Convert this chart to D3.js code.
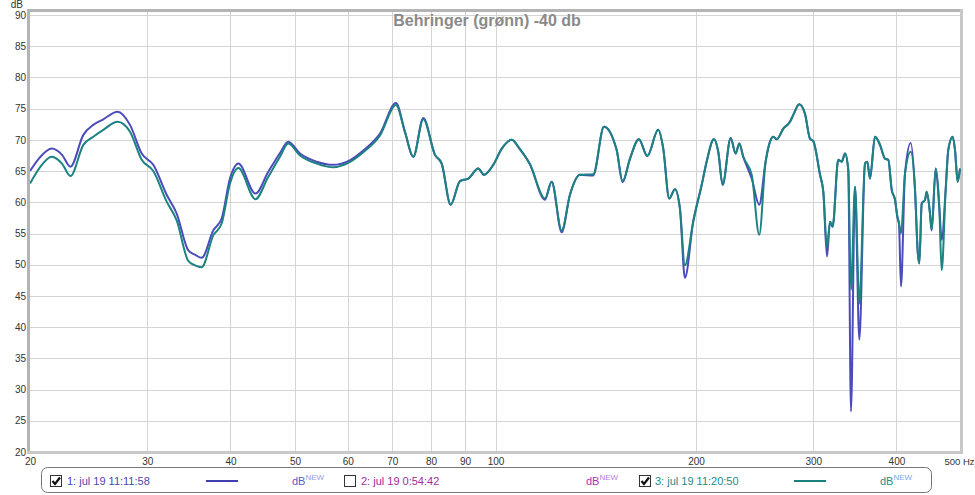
<!DOCTYPE html>
<html><head><meta charset="utf-8">
<script src="https://cdn.jsdelivr.net/npm/d3@7/dist/d3.min.js"></script>
<style>body{margin:0;background:#fff}svg{display:block}text{font-family:"Liberation Sans",Arial,sans-serif}</style>
</head><body>
<script>
const freqs = [20.0,20.7,21.56,22.34,23.0,24.05,24.89,25.77,27.07,28.26,29.43,30.63,32.08,33.21,34.57,35.38,36.21,37.69,38.80,39.93,41.10,43.61,45.54,47.47,48.85,50.87,53.89,57.07,60.11,63.31,67.08,70.88,73.13,75.26,77.91,81.12,83.02,85.65,88.45,91.02,94.22,96.10,99.24,102.2,105.75,108.8,112.65,118.65,121.43,125.7,129.36,133.9,140.2,145.5,152.0,155.2,159.2,164.2,169.0,175.5,178.6,182.3,186.0,189.2,192.5,198.1,204.0,207.5,212.8,216.0,219.3,225.5,229.4,232.3,235.5,242.5,248.9,254.3,258.3,261.3,264.4,270.5,276.8,280.0,285.8,291.5,296.6,300.0,307.1,310.6,314.6,317.9,320.8,327.1,331.0,334.8,338.6,341.8,346.6,351.8,358.8,361.6,365.0,371.4,377.9,384.4,388.9,393.5,398.0,401.2,403.5,406.3,412.0,420.2,426.5,430.5,432.9,436.5,441.5,444.1,449.2,451.8,458.1,463.8,467.7,474.2,478.5,485.8,489.7,494.3,498.3];
const series1Db = [65.0,67.2,68.6,67.6,65.7,70.8,72.4,73.3,74.5,72.4,67.8,66.0,61.2,58.2,52.3,51.6,51.1,55.5,57.4,63.8,66.2,61.4,64.8,67.9,69.7,67.8,66.5,66.0,66.6,68.3,71.0,75.9,71.3,67.3,73.5,67.6,66.2,59.6,63.4,63.8,65.4,64.4,66.0,68.6,70.0,68.5,66.1,60.4,63.3,55.2,61.2,64.4,64.3,72.1,68.4,63.2,67.0,70.1,67.4,71.6,68.6,60.6,62.1,59.0,47.9,56.9,62.8,66.5,70.1,68.1,62.8,70.3,67.8,69.4,67.3,63.8,59.6,66.3,69.7,70.5,70.1,71.8,72.9,74.0,75.7,74.2,70.2,69.8,64.4,61.7,51.3,56.9,56.1,66.8,66.5,67.8,65.2,26.5,62.5,38.0,66.2,66.5,63.8,70.5,69.2,67.0,66.8,62.0,60.4,57.7,56.6,46.5,64.6,69.5,62.0,52.1,50.2,59.8,60.4,61.7,58.2,55.5,65.4,59.3,54.0,62.0,68.4,70.5,68.4,63.3,65.4];
const series3Db = [63.0,65.6,67.3,66.2,64.2,69.2,70.5,71.6,72.9,71.3,66.8,65.0,60.1,57.1,50.6,49.9,49.6,54.7,56.6,63.0,65.5,60.5,64.0,67.3,69.4,67.5,66.2,65.6,66.3,68.0,70.7,75.6,71.2,67.3,73.3,67.6,66.2,59.6,63.4,63.8,65.4,64.4,66.0,68.6,70.0,68.5,66.1,60.6,63.3,55.5,61.2,64.4,64.5,72.1,68.4,63.4,67.0,70.1,67.4,71.6,68.6,60.6,62.1,59.0,49.9,56.9,62.8,66.5,70.1,68.1,62.8,70.3,67.8,69.4,67.3,64.4,54.8,66.3,69.7,70.5,70.1,71.8,72.9,74.0,75.7,74.2,70.2,69.8,64.4,61.7,52.8,56.9,56.1,66.8,66.5,67.8,65.2,46.0,62.5,43.8,66.2,66.5,63.8,70.5,69.2,67.0,66.8,62.0,60.4,57.7,56.6,55.0,64.6,68.1,62.0,52.1,50.2,59.8,60.4,61.7,58.2,55.5,65.4,59.3,49.1,62.0,68.4,70.5,68.4,63.3,65.4];
const yTicks = [20,25,30,35,40,45,50,55,60,65,70,75,80,85,90];
const xTicks = [20,30,40,50,60,70,80,90,100,200,300,400,500];
const xGrid = [30,40,50,60,70,80,90,100,200,300,400];
const titleText = "Behringer (grønn) -40 db";
const legendLabels = ["1: jul 19 11:11:58","2: jul 19 0:54:42","3: jul 19 11:20:50"];
const legendChecked = [true,false,true];

const W=975,H=495;
const L=30,R=961,T=15,B=452;
const svg=d3.select("body").append("svg").attr("width",W).attr("height",H);
const x=d3.scaleLog().domain([20,500]).range([L,R]);
const y=d3.scaleLinear().domain([20,90]).range([B,T]);

// grid
const g=svg.append("g");
g.selectAll(".hg").data(yTicks).join("line").attr("x1",L).attr("x2",R)
 .attr("y1",d=>Math.round(y(d))+0.5).attr("y2",d=>Math.round(y(d))+0.5).attr("stroke","#d4d4d4").attr("stroke-width",1);
g.selectAll(".vg").data(xGrid).join("line").attr("y1",10).attr("y2",B)
 .attr("x1",d=>Math.round(x(d))+0.5).attr("x2",d=>Math.round(x(d))+0.5).attr("stroke","#d4d4d4").attr("stroke-width",1);

// frame
svg.append("line").attr("x1",28.5).attr("x2",28.5).attr("y1",9).attr("y2",454).attr("stroke","#b4b4b4").attr("stroke-width",3);
svg.append("line").attr("x1",27).attr("x2",963).attr("y1",10.5).attr("y2",10.5).attr("stroke","#b4b4b4").attr("stroke-width",3);
svg.append("line").attr("x1",961.5).attr("x2",961.5).attr("y1",9).attr("y2",454).attr("stroke","#c8c8c8").attr("stroke-width",3);
svg.append("line").attr("x1",27).attr("x2",963).attr("y1",452.5).attr("y2",452.5).attr("stroke","#c8c8c8").attr("stroke-width",3);

// axes labels
const yAxis=d3.axisLeft(y).tickValues(yTicks).tickSize(0).tickPadding(0);
const ya=svg.append("g").attr("transform","translate(26,0)").call(yAxis);
ya.select(".domain").remove();
ya.selectAll("text").attr("font-size",10).attr("fill","#333").attr("font-family","Liberation Sans, Arial, sans-serif");
svg.append("text").attr("x",23).attr("y",8).attr("text-anchor","end").attr("font-size",10).attr("fill","#333").text("dB");

const xAxis=d3.axisBottom(x).tickValues(xTicks).tickSize(0).tickPadding(0).tickFormat(d3.format("d"));
const xa=svg.append("g").attr("transform","translate(0,458)").call(xAxis);
xa.select(".domain").remove();
xa.selectAll("text").attr("font-size",10).attr("fill","#333").attr("font-family","Liberation Sans, Arial, sans-serif");
xa.selectAll("text").filter(d=>d===500).attr("text-anchor","end").attr("font-size",9.5).attr("x",974-x(500)).text("500 Hz");

// title
svg.append("text").attr("x",487).attr("y",25.5).attr("text-anchor","middle").attr("font-size",16).attr("font-weight","bold").attr("fill","#8a8a8a").text(titleText);

// curves
svg.append("clipPath").attr("id","clip").append("rect").attr("x",L).attr("y",12).attr("width",R-L).attr("height",B-12);
const line=d3.line().x((d,i)=>x(freqs[i])).y(d=>y(d)).curve(d3.curveMonotoneX);
const cg=svg.append("g").attr("clip-path","url(#clip)");
cg.append("path").datum(series1Db).attr("d",line).attr("fill","none").attr("stroke","#4b4bbb").attr("stroke-width",2).attr("stroke-linejoin","round");
cg.append("path").datum(series3Db).attr("d",line).attr("fill","none").attr("stroke","#1c8282").attr("stroke-width",2).attr("stroke-linejoin","round");

// legend
const lg=svg.append("g");
lg.append("rect").attr("x",41.5).attr("y",467.5).attr("width",890).attr("height",25).attr("rx",6).attr("fill","#fff").attr("stroke","#777").attr("stroke-width",1);
const items=[
 {cx:50,tx:67,lx1:206,lx2:238,dbx:292,col:"#4848b0",line:"#3f3fb0",db:"#5a5ac8",nw:"#9a9ae8"},
 {cx:344,tx:361,lx1:null,lx2:null,dbx:586,col:"#a02ca0",line:null,db:"#b030b8",nw:"#b87ae0"},
 {cx:639,tx:655,lx1:794,lx2:826,dbx:880,col:"#268a8a",line:"#1c7f7f",db:"#2a8c8c",nw:"#7aa6e6"}
];
items.forEach((it,i)=>{
  lg.append("rect").attr("x",it.cx+0.5).attr("y",475.5).attr("width",11).attr("height",11).attr("fill","#fff").attr("stroke","#333").attr("stroke-width",1);
  if(legendChecked[i]) lg.append("path").attr("d",`M${it.cx+2.5},${481} L${it.cx+5},${484} L${it.cx+10},${477.5}`).attr("fill","none").attr("stroke","#111").attr("stroke-width",2.2);
  lg.append("text").attr("x",it.tx).attr("y",485).attr("font-size",11).attr("fill",it.col).text(legendLabels[i]);
  if(it.line) lg.append("line").attr("x1",it.lx1).attr("x2",it.lx2).attr("y1",481).attr("y2",481).attr("stroke",it.line).attr("stroke-width",2);
  const t=lg.append("text").attr("x",it.dbx).attr("y",485).attr("font-size",11).attr("fill",it.db);
  t.append("tspan").text("dB");
  t.append("tspan").attr("dy",-5).attr("font-size",8).attr("fill",it.nw).text("NEW");
});
</script>
</body></html>
